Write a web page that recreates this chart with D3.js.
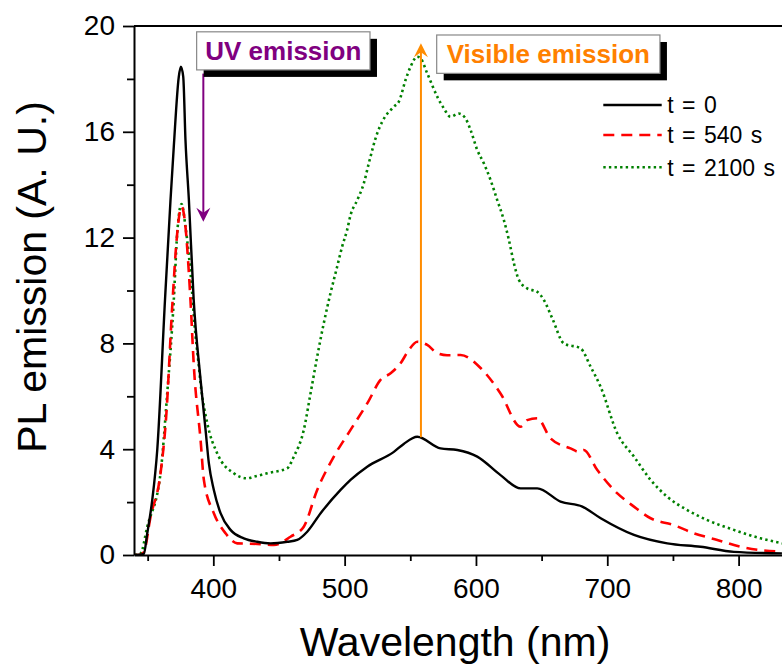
<!DOCTYPE html>
<html>
<head>
<meta charset="utf-8">
<script src="https://cdn.jsdelivr.net/npm/d3@7"></script>
<style>
  html, body { margin: 0; padding: 0; background: #fff; }
  svg { display: block; font-family: "Liberation Sans", Arial, sans-serif; }
</style>
</head>
<body>
<svg id="chart" width="782" height="666"></svg>
<script>
// ---------------- data ----------------
const xTicksMajor = [400, 500, 600, 700, 800];
const xTicksMinor = [350, 450, 550, 650, 750];
const yTicksMajor = [0, 4, 8, 12, 16, 20];
const yTicksMinor = [2, 6, 10, 14, 18];

const seriesNames = ["t = 0", "t = 540 s", "t = 2100 s"];

const wl0 = [340, 345, 347.1, 349.7, 353.5, 357.3, 363.2, 367.4, 369.9, 373.7, 375.3, 377.1, 378.8, 381.4, 385, 390.3,
  394.1, 396.6, 400.4, 405.5, 413.1, 423.2, 433.4, 443.6, 456.3, 463.9, 471.5, 481.7, 496.9, 504.5, 517.2, 537.5, 545,
  555.3, 573, 585.8, 601, 618.7, 634, 646.7, 664.4, 681, 695, 720.3, 745.7, 771, 796.4, 833];
const pl0 = [0, 0.02, 0.05, 0.82, 2.08, 3.97, 9.64, 13.42, 15.44, 18.08, 18.46, 18.08, 15.69, 13.42, 9.7, 6.62,
  4.73, 3.47, 2.46, 1.58, 0.95, 0.63, 0.5, 0.44, 0.5, 0.57, 0.88, 1.58, 2.46, 2.84, 3.34, 3.9, 4.2,
  4.47, 4.03, 3.97, 3.72, 3.02, 2.52, 2.52, 2.02, 1.83, 1.39, 0.76, 0.44, 0.31, 0.12, 0.06];

const wl540 = [340, 343.3, 347, 352.2, 359.8, 364.1, 368.7, 372.5, 375.8, 378.8, 381.4, 382.6, 385.2, 390.3, 392.8,
  400.4, 409.3, 418.2, 433.4, 446.1, 458.8, 468.9, 479.1, 491.8, 504.5, 518, 527.3, 535, 542.6, 548.9, 555.3, 562.9,
  570.5, 578, 588.3, 603.5, 618.7, 634, 639, 646.7, 656.8, 672, 678.5, 682, 692.4, 707.7, 720.3, 733, 750.7, 766,
  783.8, 801.5, 833];
const pl540 = [0, 0, 0.1, 1.45, 3.09, 5.23, 9.39, 12.16, 13.17, 12.41, 10.65, 9.64, 7.12, 4.35, 2.84,
  1.58, 0.82, 0.44, 0.42, 0.38, 0.69, 1.07, 2.46, 3.72, 4.73, 5.8, 6.62, 6.87, 7.25, 7.75, 8.06, 7.94,
  7.63, 7.55, 7.56, 7.07, 6.11, 4.85, 5.1, 5.17, 4.41, 4.03, 3.9, 3.97, 3.21, 2.33, 1.83, 1.39, 1.13, 0.82,
  0.57, 0.31, 0.12];

const wl2100 = [340, 344.6, 349.7, 359.8, 364.9, 369.9, 372.5, 375.8, 378.8, 383.9, 385.2, 389, 390.3, 395.4, 403,
  415.6, 425.8, 430.8, 441, 456.3, 461.3, 468.9, 474, 479.1, 484.1, 489.2, 494.3, 498.1, 501.9, 504.5, 509.6, 514.6,
  518.4, 524.8, 528.6, 537.5, 541.3, 546.4, 550.2, 555.3, 557.8, 562.9, 570.5, 575.5, 580.6, 586.9, 592, 595.9, 601,
  606, 611.1, 616.2, 621.2, 625.1, 628.9, 632.7, 639, 646.7, 651.7, 658.1, 666.9, 679.7, 687.3, 694.9, 707.6, 720.3,
  733, 745.7, 760.9, 776.2, 796.4, 816.7, 833.5];
const pl2100 = [0, 0.06, 1.07, 3.09, 6.11, 9.64, 12.16, 13.27, 12.41, 9.9, 9.0, 7.12, 6.49, 4.98, 3.84,
  3.09, 2.9, 2.96, 3.09, 3.28, 3.72, 4.73, 6.1, 7.5, 8.76, 9.89, 10.9, 11.66, 12.29, 12.85, 13.42, 14.05,
  14.81, 15.94, 16.38, 16.95, 17.14, 17.96, 18.46, 18.84, 18.78, 18.21, 17.33, 16.89, 16.57, 16.69, 16.51, 16.07, 15.31,
  14.81, 14.18, 13.42, 12.67, 11.91, 11.03, 10.4, 10.08, 9.95, 9.64, 8.95, 8.0, 7.81, 7.12, 6.36, 4.6, 3.72,
  2.84, 2.2, 1.7, 1.32, 0.95, 0.63, 0.44];

// ---------------- layout ----------------
(function () {
const svg = d3.select("#chart");
const mLeft = 134, mRight = 782, mTop = 26, mBottom = 555;

const x = d3.scaleLinear().domain([339.6, 833.05]).range([mLeft, mRight]);
const y = d3.scaleLinear().domain([0, 20]).range([mBottom, mTop]);

const series = [
  { name: seriesNames[0], wl: wl0, v: pl0, color: "#000000", width: 2.4, dash: null },
  { name: seriesNames[1], wl: wl540, v: pl540, color: "#ff0000", width: 2.6, dash: "11,7" },
  { name: seriesNames[2], wl: wl2100, v: pl2100, color: "#008000", width: 2.6, dash: "2.4,3.2" }
];

svg.append("defs").append("clipPath").attr("id", "plotclip")
  .append("rect").attr("x", mLeft).attr("y", mTop).attr("width", mRight - mLeft).attr("height", mBottom - mTop);

const line = d3.line().x(d => x(d[0])).y(d => y(d[1])).curve(d3.curveMonotoneX);
const gCurves = svg.append("g").attr("clip-path", "url(#plotclip)");
[series[2], series[1], series[0]].forEach(s => {
  gCurves.append("path")
    .datum(s.wl.map((w, i) => [w, s.v[i]]))
    .attr("d", line)
    .attr("fill", "none")
    .attr("stroke", s.color)
    .attr("stroke-width", s.width)
    .attr("stroke-dasharray", s.dash)
    .attr("stroke-linejoin", "round");
});

const fontTick = 28;
const gx = svg.append("g").attr("transform", `translate(0,${mBottom})`)
  .call(d3.axisBottom(x).tickValues(xTicksMajor).tickSize(11).tickSizeOuter(0).tickPadding(11.7).tickFormat(d3.format("d")));
const gxm = svg.append("g").attr("transform", `translate(0,${mBottom})`)
  .call(d3.axisBottom(x).tickValues(xTicksMinor).tickSize(6).tickSizeOuter(0).tickFormat(""));
const gy = svg.append("g").attr("transform", `translate(${mLeft},0)`)
  .call(d3.axisLeft(y).tickValues(yTicksMajor).tickSize(11).tickSizeOuter(0).tickPadding(8).tickFormat(d3.format("d")));
const gym = svg.append("g").attr("transform", `translate(${mLeft},0)`)
  .call(d3.axisLeft(y).tickValues(yTicksMinor).tickSize(7).tickSizeOuter(0).tickFormat(""));

[gx, gxm, gy, gym].forEach(g => {
  g.selectAll("path.domain").attr("stroke", "#000").attr("stroke-width", 2);
  g.selectAll(".tick line").attr("stroke", "#000").attr("stroke-width", 1.8);
  g.selectAll(".tick text").attr("fill", "#000").attr("font-size", fontTick)
    .attr("font-family", "Liberation Sans, Arial, sans-serif");
});
gxm.select("path.domain").remove();
gym.select("path.domain").remove();

svg.append("line").attr("x1", mLeft).attr("x2", mRight).attr("y1", mTop).attr("y2", mTop)
  .attr("stroke", "#000").attr("stroke-width", 2);

svg.append("text").attr("x", 455).attr("y", 656).attr("text-anchor", "middle")
  .attr("font-size", 41).attr("fill", "#000").text("Wavelength (nm)");
svg.append("text").attr("transform", "translate(46,277) rotate(-90)").attr("text-anchor", "middle")
  .attr("font-size", 41).attr("fill", "#000").text("PL emission (A. U.)");

const annotations = [
  { text: "UV emission", color: "#800080", x0: 387.3, x1: 519.3, yTop: 19.78, yBot: 18.34 },
  { text: "Visible emission", color: "#ff8000", x0: 570.1, x1: 740.1, yTop: 19.66, yBot: 18.21 }
];
const arrows = [
  { color: "#800080", x: 392.4, from: 18.2, to: 12.6 },
  { color: "#ff8c00", x: 558.1, from: 4.45, to: 19.35 }
];

arrows.forEach(a => {
  const px = x(a.x), y1 = y(a.from), y2 = y(a.to);
  const dir = y2 > y1 ? 1 : -1;
  const headLen = 14, half = 7;
  svg.append("line").attr("x1", px).attr("x2", px).attr("y1", y1).attr("y2", y2 - dir * 6)
    .attr("stroke", a.color).attr("stroke-width", 2);
  svg.append("path")
    .attr("d", `M${px},${y2} L${px - half},${y2 - dir * headLen} L${px},${y2 - dir * (headLen - 5)} L${px + half},${y2 - dir * headLen} Z`)
    .attr("fill", a.color);
});

annotations.forEach(a => {
  const bx = x(a.x0), bw = x(a.x1) - x(a.x0), by = y(a.yTop), bh = y(a.yBot) - y(a.yTop);
  svg.append("rect").attr("x", bx + 7).attr("y", by + 7).attr("width", bw).attr("height", bh).attr("fill", "#000");
  svg.append("rect").attr("x", bx).attr("y", by).attr("width", bw).attr("height", bh)
    .attr("fill", "#fff").attr("stroke", "#888").attr("stroke-width", 1.2);
  svg.append("text").attr("x", bx + bw / 2).attr("y", by + 28).attr("text-anchor", "middle")
    .attr("font-size", 26).attr("font-weight", "bold").attr("fill", a.color).text(a.text);
});

const legendY = [105, 135, 167.3];
series.forEach((s, i) => {
  svg.append("line").attr("x1", 603.3).attr("x2", 661.7).attr("y1", legendY[i]).attr("y2", legendY[i])
    .attr("stroke", s.color).attr("stroke-width", s.width).attr("stroke-dasharray", s.dash);
  svg.append("text").attr("x", 667.3).attr("y", legendY[i] + 8.2)
    .attr("font-size", 23).attr("fill", "#000").attr("word-spacing", 2).text(s.name);
});
})();
</script>
</body>
</html>
